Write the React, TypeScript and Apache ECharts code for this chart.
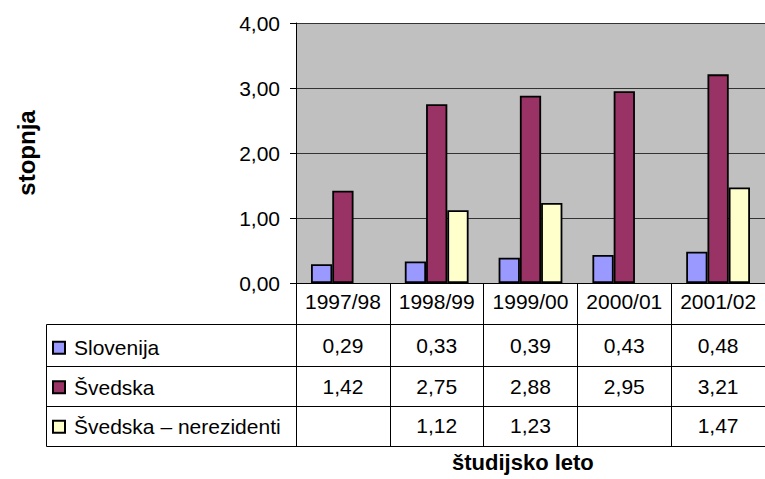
import React, { useEffect, useRef } from "react";
import * as echarts from "echarts";

const categories = ["1997/98", "1998/99", "1999/00", "2000/01", "2001/02"];
const seriesNames = ["Slovenija", "Švedska", "Švedska – nerezidenti"];
const slovenija = [0.29, 0.33, 0.39, 0.43, 0.48];
const svedska = [1.42, 2.75, 2.88, 2.95, 3.21];
const nerezidenti: (number | null)[] = [null, 1.12, 1.23, null, 1.47];
const seriesColors = ["#9999FF", "#993366", "#FFFFCC"];
const yMin = 0;
const yMax = 4;
const yInterval = 1;
const yName = "stopnja";
const xName = "študijsko leto";

const FONT = "'Liberation Sans', Arial, sans-serif";

const fmt = (v: number | null | undefined) =>
  v == null ? "" : Number(v).toFixed(2).replace(".", ",");

export default function App() {
  const ref = useRef<HTMLDivElement>(null);
  useEffect(() => {
    if (!ref.current) return;
    const chart = echarts.init(ref.current, undefined, { renderer: "svg" });
    const allData = [slovenija, svedska, nerezidenti];
    const rowOffsets = [41, 83, 123];
    const rowTickLen = [42, 40, 40];
    const rowMargins = [11, 10, 9];

    const baseAxis = {
      type: "category",
      data: categories,
      position: "bottom",
      gridIndex: 0,
      axisLine: { show: true, onZero: false, lineStyle: { color: "#000", width: 1 } },
      splitLine: { show: false },
    };

    const xAxes: any[] = [
      {
        ...baseAxis,
        axisTick: { show: true, interval: 0, length: 41, lineStyle: { color: "#000" } },
        axisLabel: {
          interval: 0,
          margin: 8,
          fontSize: 21,
          color: "#000",
          fontFamily: FONT,
        },
      },
      ...allData.map((d, i) => ({
        ...baseAxis,
        offset: rowOffsets[i],
        axisTick: { show: true, interval: 0, length: rowTickLen[i], lineStyle: { color: "#000" } },
        axisLabel: {
          interval: 0,
          margin: rowMargins[i],
          fontSize: 21,
          color: "#000",
          fontFamily: FONT,
          formatter: (_v: string, idx: number) => fmt(d[idx]),
        },
      })),
    ];

    const tableLines = [324.5, 366.5, 406.5].map((y) => ({
      type: "line",
      shape: { x1: 46.5, y1: y, x2: 296, y2: y },
      style: { stroke: "#000", lineWidth: 1 },
      silent: true,
    }));

    chart.setOption({
      animation: false,
      backgroundColor: "#fff",
      textStyle: { fontFamily: FONT },
      title: {
        text: xName,
        left: 452,
        top: 451,
        padding: 0,
        textStyle: { fontSize: 22, fontWeight: "bold", color: "#000", fontFamily: FONT },
      },
      grid: {
        left: 296,
        top: 23,
        width: 476,
        height: 260,
        show: true,
        backgroundColor: "#C0C0C0",
        borderWidth: 0,
        containLabel: false,
      },
      legend: {
        orient: "vertical",
        left: 52,
        top: 328,
        padding: 0,
        itemWidth: 12,
        itemHeight: 12,
        itemGap: 0,
        icon: "rect",
        selectedMode: false,
        data: seriesNames,
        textStyle: { fontSize: 21, color: "#000", fontFamily: FONT, lineHeight: 39.5, padding: [0, 0, 0, 4] },
      },
      xAxis: xAxes,
      yAxis: {
        type: "value",
        min: yMin,
        max: yMax,
        interval: yInterval,
        name: yName,
        nameLocation: "middle",
        nameRotate: 90,
        nameGap: 258,
        nameTextStyle: { fontSize: 24, fontWeight: "bold", color: "#000", fontFamily: FONT },
        axisLine: { show: true, lineStyle: { color: "#000" } },
        axisTick: { show: true, length: 6, lineStyle: { color: "#000" } },
        axisLabel: { formatter: (v: number) => fmt(v), fontSize: 21, margin: 16, color: "#000", fontFamily: FONT },
        splitLine: { show: true, lineStyle: { color: "#333", width: 1 } },
      },
      series: allData.map((d, i) => ({
        type: "bar",
        name: seriesNames[i],
        xAxisIndex: 0,
        data: d,
        barGap: "0%",
        barCategoryGap: "32%",
        itemStyle: { color: seriesColors[i], borderColor: "#000", borderWidth: 1.8 },
      })),
      graphic: [
        ...tableLines,
        {
          type: "line",
          shape: { x1: 46.5, y1: 446.5, x2: 772, y2: 446.5 },
          style: { stroke: "#000", lineWidth: 1 },
          silent: true,
        },
        {
          type: "line",
          shape: { x1: 46.5, y1: 324.5, x2: 46.5, y2: 446.5 },
          style: { stroke: "#000", lineWidth: 1 },
          silent: true,
        },
      ],
    });
    return () => chart.dispose();
  }, []);
  return (
    <div
      ref={ref}
      style={{ position: "absolute", left: 0, top: 0, width: 765, height: 479 }}
    />
  );
}
